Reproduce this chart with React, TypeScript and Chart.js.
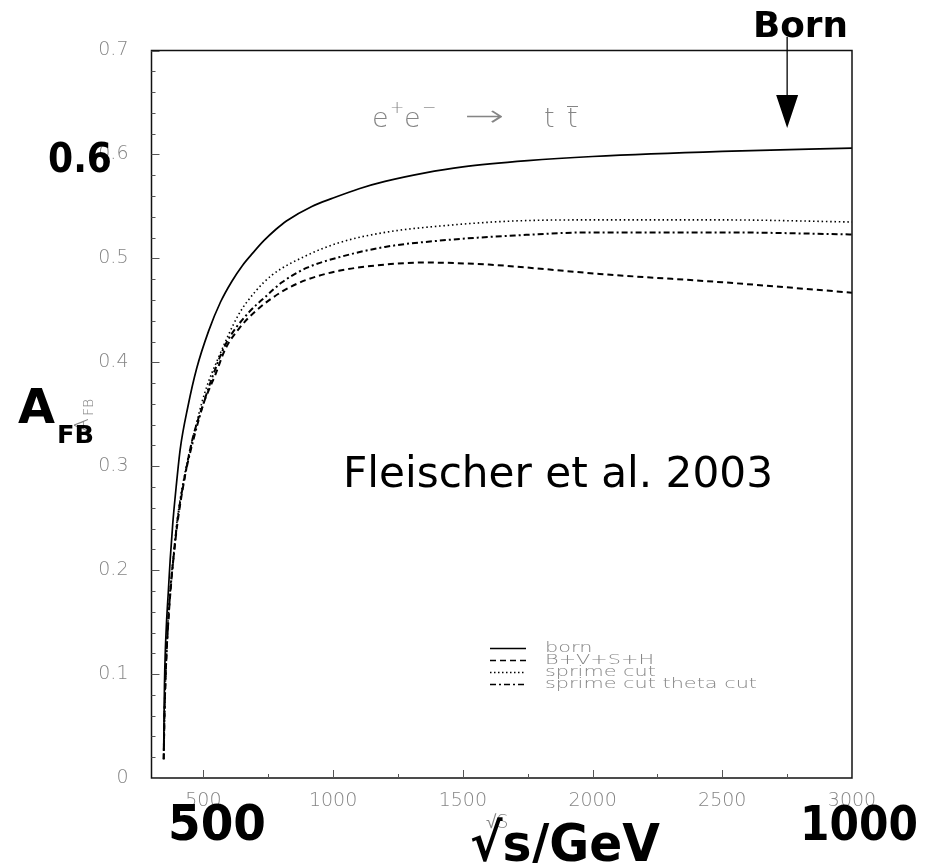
import React, { useEffect, useRef } from "react";
import { Chart, registerables } from "chart.js";

Chart.register(...registerables);

// ---- data ----
const X_MIN = 300;
const X_MAX = 3000;
const Y_MIN = 0;
const Y_MAX = 0.7;

const xMajorTicks = [500, 1000, 1500, 2000, 2500, 3000];
const xTickLabels = ["500", "1000", "1500", "2000", "2500", "3000"];
const xMinorTicks = [750, 1250, 1750, 2250, 2750];
const yMajorTicks = [0, 0.1, 0.2, 0.3, 0.4, 0.5, 0.6, 0.7];
const yTickLabels = ["0", "0.1", "0.2", "0.3", "0.4", "0.5", "0.6", "0.7"];
const yMinorTicks = [
  0.02, 0.04, 0.06, 0.08, 0.12, 0.14, 0.16, 0.18, 0.22, 0.24, 0.26, 0.28,
  0.32, 0.34, 0.36, 0.38, 0.42, 0.44, 0.46, 0.48, 0.52, 0.54, 0.56, 0.58,
  0.62, 0.64, 0.66, 0.68,
];

const bornSqrtS = [347, 348, 350, 353, 358, 365, 372, 382, 395, 411, 440, 474, 520, 566, 610, 650, 690, 733, 780, 820, 918, 1000, 1100, 1200, 1350, 1500, 1750, 2000, 2500, 3000];
const bornAfb = [0.026, 0.05, 0.09, 0.12, 0.15, 0.18, 0.21, 0.245, 0.28, 0.317, 0.357, 0.394, 0.43, 0.458, 0.478, 0.493, 0.505, 0.517, 0.528, 0.536, 0.55, 0.558, 0.567, 0.574, 0.582, 0.588, 0.594, 0.598, 0.603, 0.606];

const bvshSqrtS = [347, 350, 354, 358, 366, 375, 382, 400, 425, 456, 500, 546, 585, 636, 700, 803, 894, 1022, 1200, 1350, 1600, 1800, 2027, 2500, 3000];
const bvshAfb = [0.018, 0.06, 0.095, 0.12, 0.155, 0.185, 0.205, 0.245, 0.285, 0.324, 0.36, 0.388, 0.413, 0.432, 0.449, 0.468, 0.479, 0.488, 0.494, 0.496, 0.494, 0.49, 0.485, 0.477, 0.467];

const sprimeSqrtS = [347, 350, 354, 358, 366, 375, 385, 400, 430, 462, 507, 559, 636, 700, 765, 900, 1022, 1200, 1408, 1700, 2000, 2500, 3000];
const sprimeAfb = [0.018, 0.06, 0.095, 0.12, 0.16, 0.19, 0.215, 0.25, 0.295, 0.33, 0.372, 0.405, 0.446, 0.468, 0.484, 0.503, 0.515, 0.525, 0.531, 0.536, 0.537, 0.537, 0.535];

const thetaSqrtS = [347, 350, 354, 358, 366, 375, 385, 400, 430, 462, 500, 532, 585, 675, 739, 803, 900, 1022, 1200, 1408, 1700, 2000, 2500, 3000];
const thetaAfb = [0.018, 0.06, 0.095, 0.12, 0.157, 0.187, 0.212, 0.248, 0.292, 0.326, 0.36, 0.384, 0.417, 0.448, 0.463, 0.477, 0.491, 0.501, 0.511, 0.517, 0.522, 0.525, 0.525, 0.523];

const legendLabels = ["born", "B+V+S+H", "sprime cut", "sprime cut theta cut"];
const legendDashes: number[][] = [[], [6, 4], [1.5, 2.5], [6, 3, 2, 3]];

const GRAY = "#858585";
const LIGHT = '200 19px "DejaVu Sans", "Lato", sans-serif';

function pts(xs: number[], ys: number[]) {
  return xs.map((x, i) => ({ x, y: ys[i] }));
}

function drawFit(ctx: CanvasRenderingContext2D, text: string, x: number, baseline: number, font: string, width: number) {
  ctx.save();
  ctx.font = font;
  ctx.textAlign = "left";
  ctx.textBaseline = "alphabetic";
  const w = ctx.measureText(text).width;
  ctx.translate(x, baseline);
  ctx.scale(width / w, 1);
  ctx.fillText(text, 0, 0);
  ctx.restore();
}

const overlayPlugin = {
  id: "overlay",
  afterDraw(chart: any) {
    const ctx: CanvasRenderingContext2D = chart.ctx;
    const xs = chart.scales.x;
    const ys = chart.scales.y;
    const a = chart.chartArea;
    ctx.save();
    // frame
    ctx.strokeStyle = "#111";
    ctx.lineWidth = 1.5;
    ctx.strokeRect(a.left, a.top, a.right - a.left, a.bottom - a.top);
    // ticks
    ctx.lineWidth = 1;
    ctx.strokeStyle = "#555";
    ctx.beginPath();
    yMajorTicks.forEach((v) => {
      const py = Math.round(ys.getPixelForValue(v)) + 0.5;
      ctx.moveTo(a.left, py);
      ctx.lineTo(a.left + 8, py);
    });
    yMinorTicks.forEach((v) => {
      const py = Math.round(ys.getPixelForValue(v)) + 0.5;
      ctx.moveTo(a.left, py);
      ctx.lineTo(a.left + 4, py);
    });
    xMajorTicks.forEach((v) => {
      const px = Math.round(xs.getPixelForValue(v)) + 0.5;
      ctx.moveTo(px, a.bottom);
      ctx.lineTo(px, a.bottom - 8);
    });
    xMinorTicks.forEach((v) => {
      const px = Math.round(xs.getPixelForValue(v)) + 0.5;
      ctx.moveTo(px, a.bottom);
      ctx.lineTo(px, a.bottom - 4);
    });
    ctx.stroke();

    // tick labels
    ctx.fillStyle = GRAY;
    ctx.font = LIGHT;
    ctx.textAlign = "right";
    ctx.textBaseline = "middle";
    yMajorTicks.forEach((v, i) => {
      ctx.fillText(yTickLabels[i], a.left - 23, ys.getPixelForValue(v));
    });
    ctx.textAlign = "center";
    xMajorTicks.forEach((v, i) => {
      ctx.fillText(xTickLabels[i], xs.getPixelForValue(v), a.bottom + 23);
    });

    // gray axis titles (original)
    ctx.textAlign = "left";
    ctx.textBaseline = "alphabetic";
    ctx.font = '200 19px "DejaVu Sans", sans-serif';
    ctx.fillText("\u221AS", 486, 828);
    ctx.save();
    ctx.translate(88, 432);
    ctx.rotate(-Math.PI / 2);
    ctx.font = '200 20px "DejaVu Sans", sans-serif';
    ctx.fillText("A", 0, 0);
    ctx.font = '200 14px "DejaVu Sans", sans-serif';
    ctx.fillText("FB", 16, 5);
    ctx.restore();

    // e+e- -> t tbar
    ctx.fillStyle = GRAY;
    ctx.font = '200 27px "DejaVu Sans", sans-serif';
    ctx.fillText("e", 372, 127);
    ctx.fillText("e", 404, 127);
    ctx.font = '200 17px "DejaVu Sans", sans-serif';
    ctx.fillText("+", 390, 113);
    ctx.fillText("\u2212", 422, 113);
    drawFit(ctx, "\u2192", 464, 126, '200 30px "DejaVu Sans", sans-serif', 40);
    ctx.font = '200 27px "DejaVu Sans", sans-serif';
    ctx.fillText("t", 544, 127);
    ctx.fillText("t", 567, 127);
    ctx.strokeStyle = GRAY;
    ctx.lineWidth = 1;
    ctx.beginPath();
    ctx.moveTo(567, 106.5);
    ctx.lineTo(578, 106.5);
    ctx.stroke();

    // legend
    const rowY = [648, 660, 672, 684];
    legendLabels.forEach((lab, i) => {
      ctx.save();
      ctx.strokeStyle = "#000";
      ctx.lineWidth = i === 0 ? 1.5 : 1.6;
      ctx.setLineDash(legendDashes[i]);
      ctx.beginPath();
      ctx.moveTo(490, rowY[i] + 0.5);
      ctx.lineTo(526, rowY[i] + 0.5);
      ctx.stroke();
      ctx.restore();
    });
    ctx.fillStyle = GRAY;
    const lf = '200 14px "DejaVu Sans", sans-serif';
    ctx.font = lf;
    const sc = 212 / ctx.measureText(legendLabels[3]).width;
    legendLabels.forEach((lab, i) => {
      ctx.save();
      ctx.font = lf;
      ctx.textBaseline = "middle";
      ctx.translate(545, rowY[i]);
      ctx.scale(sc, 1);
      ctx.fillText(lab, 0, 0);
      ctx.restore();
    });

    // Born arrow
    const ax = xs.getPixelForValue(2750);
    const tipY = ys.getPixelForValue(0.6255);
    ctx.strokeStyle = "#000";
    ctx.fillStyle = "#000";
    ctx.lineWidth = 1.3;
    ctx.beginPath();
    ctx.moveTo(ax, 37);
    ctx.lineTo(ax, tipY - 30);
    ctx.stroke();
    ctx.beginPath();
    ctx.moveTo(ax - 11, tipY - 33);
    ctx.lineTo(ax + 11, tipY - 33);
    ctx.lineTo(ax, tipY);
    ctx.closePath();
    ctx.fill();

    // bold overlay texts
    ctx.fillStyle = "#000";
    const B = (s: number) => `bold ${s}px "DejaVu Sans", sans-serif`;
    drawFit(ctx, "Born", 753, 37, B(36), 95);
    drawFit(ctx, "0.6", 48, 172, B(40), 64);
    drawFit(ctx, "A", 18, 423, B(48), 37);
    drawFit(ctx, "FB", 57, 443, B(25), 37);
    drawFit(ctx, "500", 168, 840, B(50), 98);
    drawFit(ctx, "1000", 800, 840, B(48), 118);
    drawFit(ctx, "\u221As/GeV", 470, 861, B(52), 190);
    drawFit(ctx, "Fleischer et al. 2003", 343, 487, '42px "DejaVu Sans", sans-serif', 430);
    ctx.restore();
  },
};

export default function App() {
  const ref = useRef<HTMLCanvasElement | null>(null);
  useEffect(() => {
    if (!ref.current) return;
    const chart = new Chart(ref.current, {
      type: "line",
      data: {
        datasets: [
          { label: "born", data: pts(bornSqrtS, bornAfb), borderColor: "#000", borderWidth: 1.7, borderDash: [] },
          { label: "B+V+S+H", data: pts(bvshSqrtS, bvshAfb), borderColor: "#000", borderWidth: 2, borderDash: [6, 4] },
          { label: "sprime cut", data: pts(sprimeSqrtS, sprimeAfb), borderColor: "#000", borderWidth: 1.6, borderDash: [1.5, 2.8] },
          { label: "sprime cut theta cut", data: pts(thetaSqrtS, thetaAfb), borderColor: "#000", borderWidth: 2, borderDash: [6, 3, 2, 3] },
        ],
      },
      options: {
        animation: false,
        responsive: false,
        events: [],
        layout: { padding: { left: 151.5, right: 99, top: 50.5, bottom: 85 } },
        elements: { point: { radius: 0 }, line: { cubicInterpolationMode: "monotone", fill: false } },
        scales: {
          x: { type: "linear", min: X_MIN, max: X_MAX, display: false },
          y: { type: "linear", min: Y_MIN, max: Y_MAX, display: false },
        },
        plugins: { legend: { display: false }, tooltip: { enabled: false } },
      },
      plugins: [overlayPlugin],
    });
    return () => chart.destroy();
  }, []);
  return (
    <div style={{ position: "absolute", left: 0, top: 0, width: 951, height: 863, background: "#fff" }}>
      <canvas ref={ref} width={951} height={863} style={{ display: "block", width: 951, height: 863 }} />
    </div>
  );
}
